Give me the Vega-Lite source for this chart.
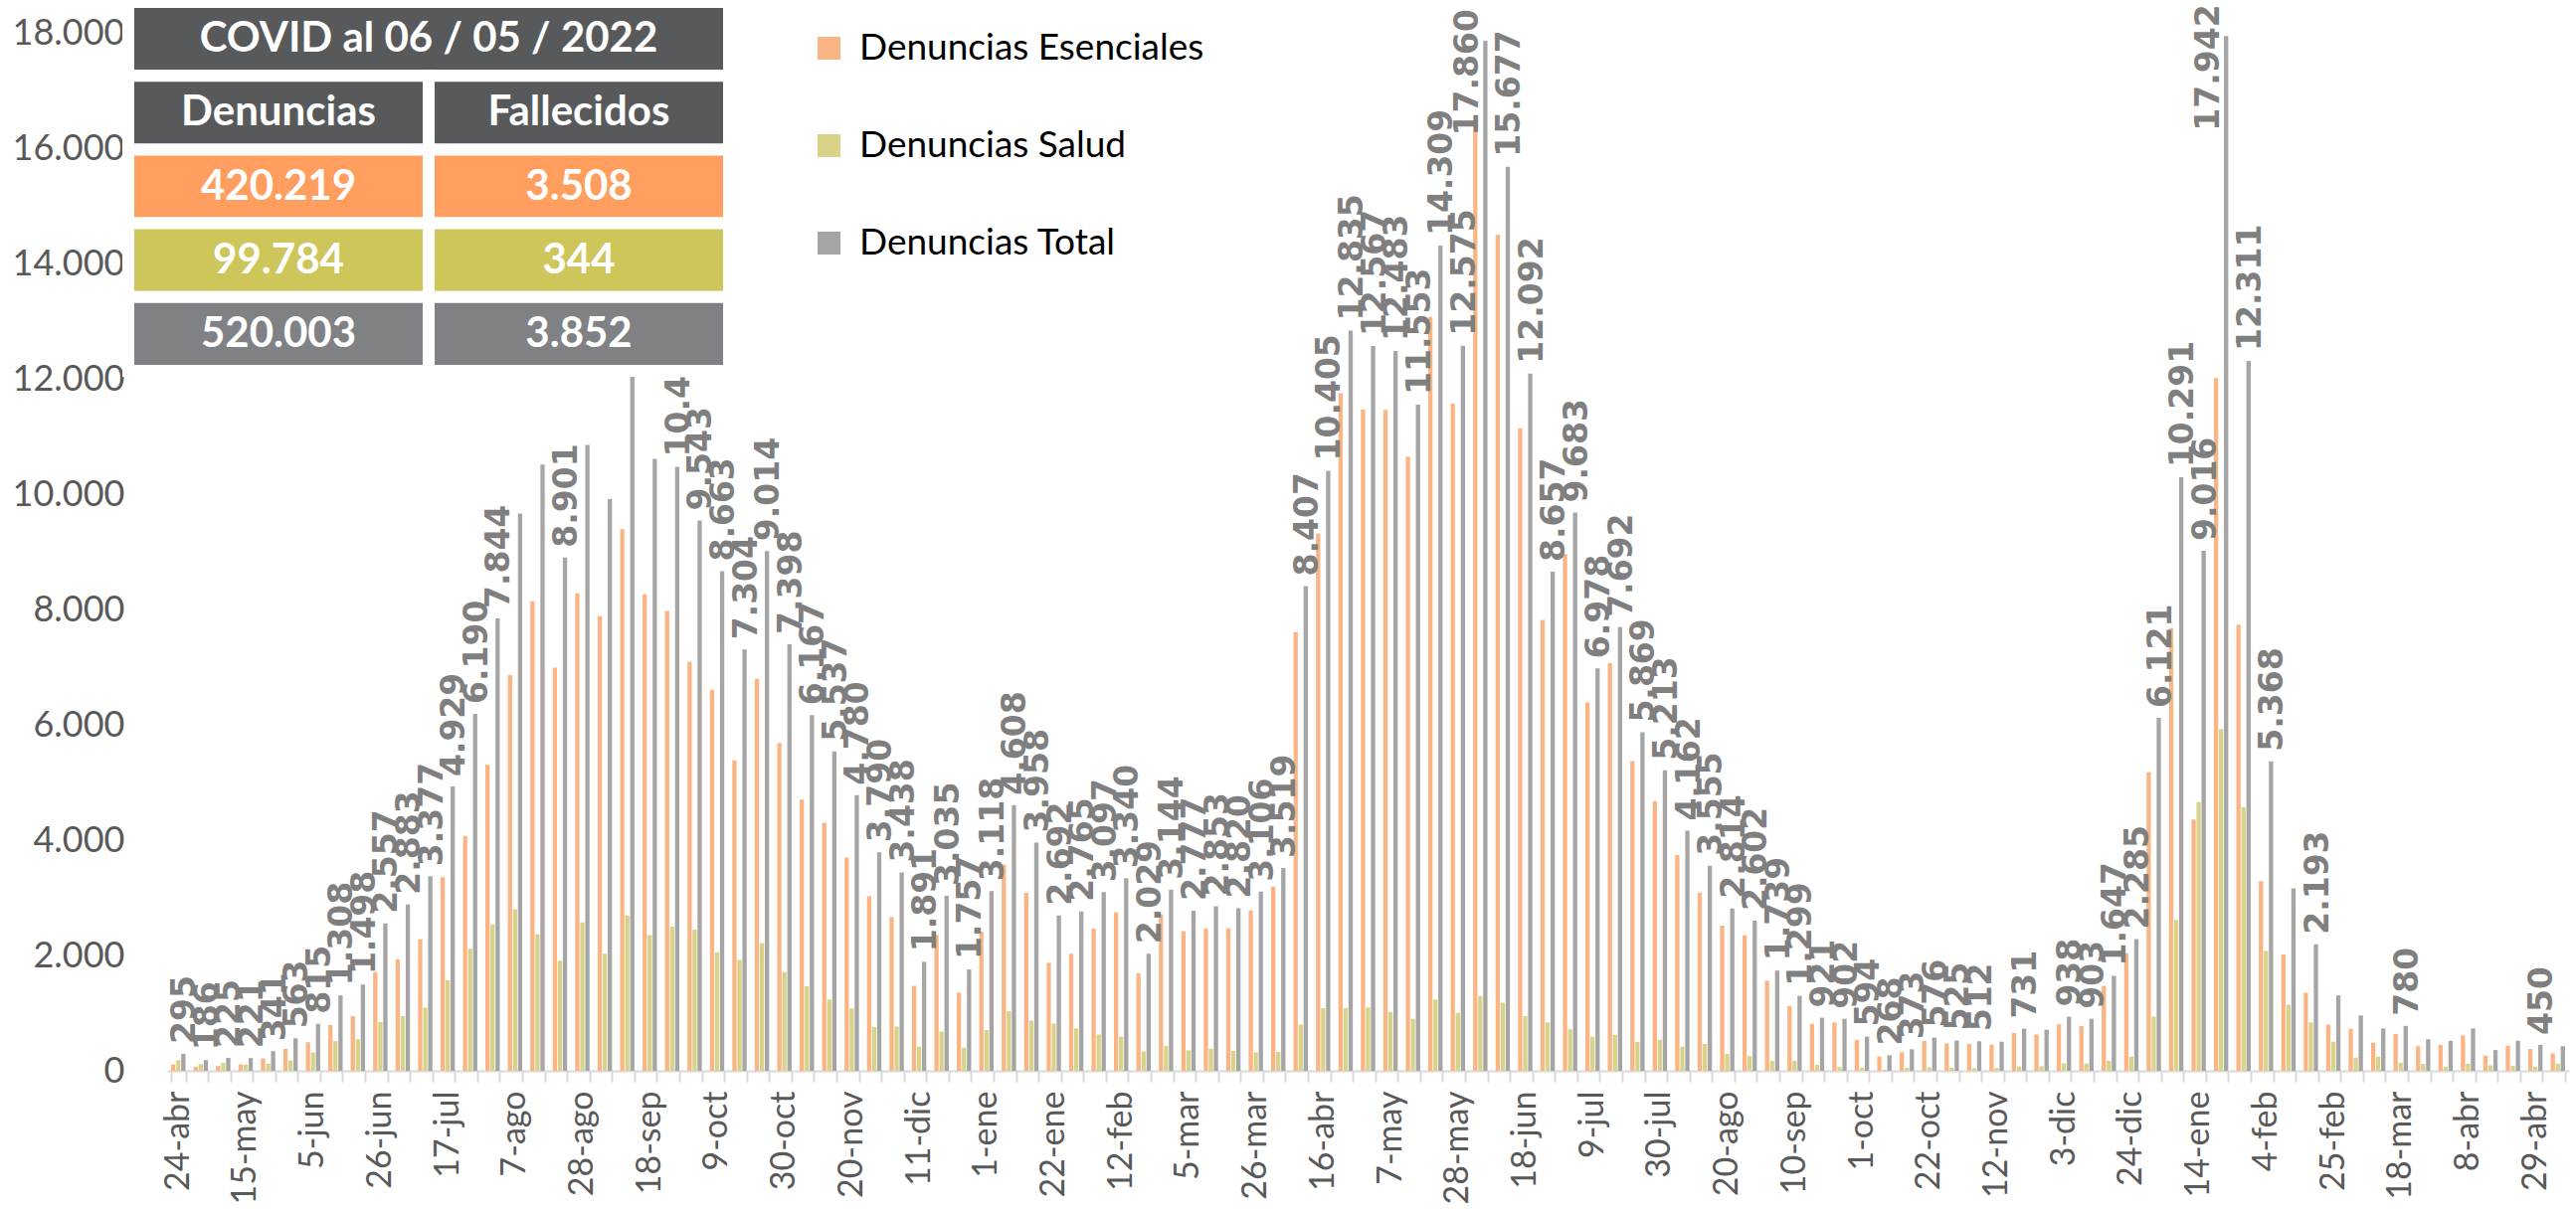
{
  "$schema": "https://vega.github.io/schema/vega-lite/v6.json",
  "width": 2415,
  "height": 1044,
  "autosize": {"type": "none"},
  "padding": {"left": 168, "top": 33, "right": 7, "bottom": 139},
  "background": "white",
  "config": {
    "view": {"stroke": null},
    "font": "Lato",
    "locale": {"number": {"decimal": ",", "thousands": ".", "grouping": [3], "currency": ["", " €"]}}
  },
  "datasets": {
    "semanas": [
      {"semana": "2020-04-24", "Esenciales": 110, "Salud": 185, "Total": 295},
      {"semana": "2020-05-01", "Esenciales": 71, "Salud": 115, "Total": 186},
      {"semana": "2020-05-08", "Esenciales": 85, "Salud": 140, "Total": 225},
      {"semana": "2020-05-15", "Esenciales": 113, "Salud": 108, "Total": 221},
      {"semana": "2020-05-22", "Esenciales": 216, "Salud": 125, "Total": 341},
      {"semana": "2020-05-29", "Esenciales": 383, "Salud": 180, "Total": 563},
      {"semana": "2020-06-05", "Esenciales": 497, "Salud": 318, "Total": 815},
      {"semana": "2020-06-12", "Esenciales": 793, "Salud": 515, "Total": 1308},
      {"semana": "2020-06-19", "Esenciales": 948, "Salud": 550, "Total": 1498},
      {"semana": "2020-06-26", "Esenciales": 1712, "Salud": 845, "Total": 2557},
      {"semana": "2020-07-03", "Esenciales": 1933, "Salud": 950, "Total": 2883},
      {"semana": "2020-07-10", "Esenciales": 2282, "Salud": 1095, "Total": 3377},
      {"semana": "2020-07-17", "Esenciales": 3357, "Salud": 1572, "Total": 4929},
      {"semana": "2020-07-24", "Esenciales": 4072, "Salud": 2118, "Total": 6190},
      {"semana": "2020-07-31", "Esenciales": 5307, "Salud": 2537, "Total": 7844},
      {"semana": "2020-08-07", "Esenciales": 6864, "Salud": 2800, "Total": 9664, "rotulo": 0},
      {"semana": "2020-08-14", "Esenciales": 8143, "Salud": 2368, "Total": 10511, "rotulo": 0},
      {"semana": "2020-08-21", "Esenciales": 6991, "Salud": 1910, "Total": 8901},
      {"semana": "2020-08-28", "Esenciales": 8281, "Salud": 2573, "Total": 10854, "rotulo": 0},
      {"semana": "2020-09-04", "Esenciales": 7885, "Salud": 2030, "Total": 9915, "rotulo": 0},
      {"semana": "2020-09-11", "Esenciales": 9392, "Salud": 2693, "Total": 12085, "rotulo": 0},
      {"semana": "2020-09-18", "Esenciales": 8261, "Salud": 2352, "Total": 10613, "rotulo": 0},
      {"semana": "2020-09-25", "Esenciales": 7974, "Salud": 2500, "Total": 10474},
      {"semana": "2020-10-02", "Esenciales": 7093, "Salud": 2450, "Total": 9543},
      {"semana": "2020-10-09", "Esenciales": 6608, "Salud": 2055, "Total": 8663},
      {"semana": "2020-10-16", "Esenciales": 5382, "Salud": 1922, "Total": 7304},
      {"semana": "2020-10-23", "Esenciales": 6799, "Salud": 2215, "Total": 9014},
      {"semana": "2020-10-30", "Esenciales": 5686, "Salud": 1712, "Total": 7398},
      {"semana": "2020-11-06", "Esenciales": 4702, "Salud": 1465, "Total": 6167},
      {"semana": "2020-11-13", "Esenciales": 4302, "Salud": 1235, "Total": 5537},
      {"semana": "2020-11-20", "Esenciales": 3698, "Salud": 1082, "Total": 4780},
      {"semana": "2020-11-27", "Esenciales": 3030, "Salud": 760, "Total": 3790},
      {"semana": "2020-12-04", "Esenciales": 2670, "Salud": 768, "Total": 3438},
      {"semana": "2020-12-11", "Esenciales": 1473, "Salud": 418, "Total": 1891},
      {"semana": "2020-12-18", "Esenciales": 2355, "Salud": 680, "Total": 3035},
      {"semana": "2020-12-25", "Esenciales": 1357, "Salud": 400, "Total": 1757},
      {"semana": "2021-01-01", "Esenciales": 2413, "Salud": 705, "Total": 3118},
      {"semana": "2021-01-08", "Esenciales": 3573, "Salud": 1035, "Total": 4608},
      {"semana": "2021-01-15", "Esenciales": 3088, "Salud": 870, "Total": 3958},
      {"semana": "2021-01-22", "Esenciales": 1872, "Salud": 820, "Total": 2692},
      {"semana": "2021-01-29", "Esenciales": 2030, "Salud": 735, "Total": 2765},
      {"semana": "2021-02-05", "Esenciales": 2467, "Salud": 630, "Total": 3097},
      {"semana": "2021-02-12", "Esenciales": 2750, "Salud": 590, "Total": 3340},
      {"semana": "2021-02-19", "Esenciales": 1694, "Salud": 335, "Total": 2029},
      {"semana": "2021-02-26", "Esenciales": 2714, "Salud": 430, "Total": 3144},
      {"semana": "2021-03-05", "Esenciales": 2422, "Salud": 355, "Total": 2777},
      {"semana": "2021-03-12", "Esenciales": 2468, "Salud": 385, "Total": 2853},
      {"semana": "2021-03-19", "Esenciales": 2475, "Salud": 345, "Total": 2820},
      {"semana": "2021-03-26", "Esenciales": 2786, "Salud": 320, "Total": 3106},
      {"semana": "2021-04-02", "Esenciales": 3194, "Salud": 325, "Total": 3519},
      {"semana": "2021-04-09", "Esenciales": 7607, "Salud": 800, "Total": 8407},
      {"semana": "2021-04-16", "Esenciales": 9320, "Salud": 1085, "Total": 10405},
      {"semana": "2021-04-23", "Esenciales": 11750, "Salud": 1085, "Total": 12835},
      {"semana": "2021-04-30", "Esenciales": 11467, "Salud": 1100, "Total": 12567},
      {"semana": "2021-05-07", "Esenciales": 11463, "Salud": 1020, "Total": 12483},
      {"semana": "2021-05-14", "Esenciales": 10653, "Salud": 900, "Total": 11553},
      {"semana": "2021-05-21", "Esenciales": 13074, "Salud": 1235, "Total": 14309},
      {"semana": "2021-05-28", "Esenciales": 11570, "Salud": 1005, "Total": 12575},
      {"semana": "2021-06-04", "Esenciales": 16564, "Salud": 1296, "Total": 17860},
      {"semana": "2021-06-11", "Esenciales": 14497, "Salud": 1180, "Total": 15677},
      {"semana": "2021-06-18", "Esenciales": 11142, "Salud": 950, "Total": 12092},
      {"semana": "2021-06-25", "Esenciales": 7817, "Salud": 840, "Total": 8657},
      {"semana": "2021-07-02", "Esenciales": 8963, "Salud": 720, "Total": 9683},
      {"semana": "2021-07-09", "Esenciales": 6388, "Salud": 590, "Total": 6978},
      {"semana": "2021-07-16", "Esenciales": 7067, "Salud": 625, "Total": 7692},
      {"semana": "2021-07-23", "Esenciales": 5369, "Salud": 500, "Total": 5869},
      {"semana": "2021-07-30", "Esenciales": 4673, "Salud": 540, "Total": 5213},
      {"semana": "2021-08-06", "Esenciales": 3742, "Salud": 420, "Total": 4162},
      {"semana": "2021-08-13", "Esenciales": 3090, "Salud": 465, "Total": 3555},
      {"semana": "2021-08-20", "Esenciales": 2519, "Salud": 295, "Total": 2814},
      {"semana": "2021-08-27", "Esenciales": 2347, "Salud": 255, "Total": 2602},
      {"semana": "2021-09-03", "Esenciales": 1564, "Salud": 175, "Total": 1739},
      {"semana": "2021-09-10", "Esenciales": 1124, "Salud": 175, "Total": 1299},
      {"semana": "2021-09-17", "Esenciales": 816, "Salud": 105, "Total": 921},
      {"semana": "2021-09-24", "Esenciales": 837, "Salud": 65, "Total": 902},
      {"semana": "2021-10-01", "Esenciales": 539, "Salud": 55, "Total": 594},
      {"semana": "2021-10-08", "Esenciales": 248, "Salud": 20, "Total": 268},
      {"semana": "2021-10-15", "Esenciales": 323, "Salud": 50, "Total": 373},
      {"semana": "2021-10-22", "Esenciales": 516, "Salud": 60, "Total": 576},
      {"semana": "2021-10-29", "Esenciales": 475, "Salud": 50, "Total": 525},
      {"semana": "2021-11-05", "Esenciales": 467, "Salud": 45, "Total": 512},
      {"semana": "2021-11-12", "Esenciales": 455, "Salud": 50, "Total": 505, "rotulo": 0},
      {"semana": "2021-11-19", "Esenciales": 656, "Salud": 75, "Total": 731},
      {"semana": "2021-11-26", "Esenciales": 632, "Salud": 80, "Total": 712, "rotulo": 0},
      {"semana": "2021-12-03", "Esenciales": 808, "Salud": 130, "Total": 938},
      {"semana": "2021-12-10", "Esenciales": 778, "Salud": 125, "Total": 903},
      {"semana": "2021-12-17", "Esenciales": 1472, "Salud": 175, "Total": 1647},
      {"semana": "2021-12-24", "Esenciales": 2040, "Salud": 245, "Total": 2285},
      {"semana": "2021-12-31", "Esenciales": 5181, "Salud": 940, "Total": 6121},
      {"semana": "2022-01-07", "Esenciales": 7676, "Salud": 2615, "Total": 10291},
      {"semana": "2022-01-14", "Esenciales": 4356, "Salud": 4660, "Total": 9016},
      {"semana": "2022-01-21", "Esenciales": 12015, "Salud": 5927, "Total": 17942},
      {"semana": "2022-01-28", "Esenciales": 7736, "Salud": 4575, "Total": 12311},
      {"semana": "2022-02-04", "Esenciales": 3288, "Salud": 2080, "Total": 5368},
      {"semana": "2022-02-11", "Esenciales": 2019, "Salud": 1145, "Total": 3164, "rotulo": 0},
      {"semana": "2022-02-18", "Esenciales": 1353, "Salud": 840, "Total": 2193},
      {"semana": "2022-02-25", "Esenciales": 803, "Salud": 505, "Total": 1308, "rotulo": 0},
      {"semana": "2022-03-04", "Esenciales": 731, "Salud": 230, "Total": 961, "rotulo": 0},
      {"semana": "2022-03-11", "Esenciales": 489, "Salud": 245, "Total": 734, "rotulo": 0},
      {"semana": "2022-03-18", "Esenciales": 640, "Salud": 140, "Total": 780},
      {"semana": "2022-03-25", "Esenciales": 427, "Salud": 120, "Total": 547, "rotulo": 0},
      {"semana": "2022-04-01", "Esenciales": 451, "Salud": 70, "Total": 521, "rotulo": 0},
      {"semana": "2022-04-08", "Esenciales": 614, "Salud": 120, "Total": 734, "rotulo": 0},
      {"semana": "2022-04-15", "Esenciales": 265, "Salud": 95, "Total": 360, "rotulo": 0},
      {"semana": "2022-04-22", "Esenciales": 436, "Salud": 85, "Total": 521, "rotulo": 0},
      {"semana": "2022-04-29", "Esenciales": 380, "Salud": 70, "Total": 450},
      {"semana": "2022-05-06", "Esenciales": 302, "Salud": 125, "Total": 427, "rotulo": 0}
    ],
    "tabla": [
      {"fila": "titulo", "col_ini": 0, "col_fin": 2, "texto": "COVID al  06 / 05 / 2022"},
      {"fila": "encabezado", "col_ini": 0, "col_fin": 1, "texto": "Denuncias"},
      {"fila": "encabezado", "col_ini": 1, "col_fin": 2, "texto": "Fallecidos"},
      {"fila": "Esenciales", "col_ini": 0, "col_fin": 1, "texto": "420.219"},
      {"fila": "Esenciales", "col_ini": 1, "col_fin": 2, "texto": "3.508"},
      {"fila": "Salud", "col_ini": 0, "col_fin": 1, "texto": "99.784"},
      {"fila": "Salud", "col_ini": 1, "col_fin": 2, "texto": "344"},
      {"fila": "Total", "col_ini": 0, "col_fin": 1, "texto": "520.003"},
      {"fila": "Total", "col_ini": 1, "col_fin": 2, "texto": "3.852"}
    ]
  },
  "layer": [
    {
      "data": {"name": "semanas"},
      "transform": [{"fold": ["Esenciales", "Salud", "Total"], "as": ["serie", "valor"]}],
      "layer": [
        {
          "mark": {"type": "bar"},
          "encoding": {
            "x": {
              "field": "semana", "type": "ordinal",
              "scale": {"paddingInner": 0.36, "paddingOuter": 0.18},
              "axis": {
                "title": null,
                "tickBand": "extent",
                "domainColor": "#D9D9D9", "domainWidth": 2,
                "tickColor": "#D9D9D9", "tickWidth": 2, "tickSize": 11,
                "labelAngle": 270, "labelPadding": 9,
                "labelFont": "Lato", "labelFontSize": 34, "labelColor": "#595959",
                "labelOverlap": false, "labelLimit": 0,
                "labelExpr": "isString(datum.value) && (round((toDate(datum.value) - toDate('2020-04-24')) / 604800000) % 3 == 0) ? utcdate(toDate(datum.value)) + '-' + ['ene','feb','mar','abr','may','jun','jul','ago','sep','oct','nov','dic'][utcmonth(toDate(datum.value))] : ''"
              }
            },
            "xOffset": {
              "field": "serie", "type": "nominal",
              "scale": {"domain": ["Esenciales", "Salud", "Total"], "paddingInner": 0.15, "paddingOuter": 0}
            },
            "y": {
              "field": "valor", "type": "quantitative",
              "scale": {"domain": [0, 18000], "nice": false},
              "axis": {
                "title": null, "grid": false, "domain": false, "ticks": false,
                "values": [0, 2000, 4000, 6000, 8000, 10000, 12000, 14000, 16000, 18000],
                "format": ",d", "labelPadding": 43,
                "labelFont": "Lato", "labelFontSize": 36, "labelColor": "#595959"
              }
            },
            "color": {
              "field": "serie", "type": "nominal",
              "scale": {"domain": ["Esenciales", "Salud", "Total"], "range": ["#FBB584", "#D9D38A", "#A5A5A5"]},
              "legend": {
                "title": null, "orient": "none", "legendX": 647, "legendY": -3,
                "direction": "vertical", "symbolType": "square", "symbolSize": 529,
                "symbolStrokeWidth": 0, "symbolOpacity": 1,
                "labelFont": "Lato", "labelFontSize": 37, "labelColor": "#000000",
                "labelOffset": 12, "rowPadding": 60, "padding": 0, "labelLimit": 0,
                "labelExpr": "'Denuncias ' + datum.label"
              }
            }
          }
        },
        {
          "transform": [{"filter": "datum.serie == 'Total' && datum.rotulo !== 0 && datum.valor < 16000"}],
          "mark": {
            "type": "text", "angle": 270, "align": "left", "baseline": "middle",
            "dx": 10, "dy": 2, "font": "DejaVu Sans", "fontWeight": "bold",
            "fontSize": 33, "fill": "#7F7F7F"
          },
          "encoding": {
            "x": {"field": "semana", "type": "ordinal"},
            "xOffset": {"field": "serie", "type": "nominal"},
            "y": {"field": "valor", "type": "quantitative"},
            "text": {"field": "valor", "type": "quantitative", "format": ",d"}
          }
        },
        {
          "transform": [{"filter": "datum.serie == 'Total' && datum.rotulo !== 0 && datum.valor >= 16000"}],
          "mark": {
            "type": "text", "angle": 270, "align": "right", "baseline": "middle",
            "dx": 32, "dy": -17, "font": "DejaVu Sans", "fontWeight": "bold",
            "fontSize": 33, "fill": "#7F7F7F"
          },
          "encoding": {
            "x": {"field": "semana", "type": "ordinal"},
            "xOffset": {"field": "serie", "type": "nominal"},
            "y": {"field": "valor", "type": "quantitative"},
            "text": {"field": "valor", "type": "quantitative", "format": ",d"}
          }
        }
      ]
    },
    {
      "data": {"name": "tabla"},
      "transform": [{"calculate": "(datum.col_ini + datum.col_fin) / 2", "as": "centro"}],
      "layer": [
        {
          "mark": {"type": "rect", "stroke": "white", "strokeWidth": 12},
          "encoding": {
            "x": {"field": "col_ini", "type": "quantitative", "scale": {"domain": [0, 2], "range": [-39, 565]}, "axis": null},
            "x2": {"field": "col_fin"},
            "y": {
              "field": "fila", "type": "nominal",
              "scale": {"domain": ["titulo", "encabezado", "Esenciales", "Salud", "Total"], "range": [-31, 340], "paddingInner": 0, "paddingOuter": 0},
              "axis": null
            },
            "fill": {
              "field": "fila", "type": "nominal",
              "scale": {"domain": ["titulo", "encabezado", "Esenciales", "Salud", "Total"], "range": ["#58595B", "#58595B", "#FF9E5F", "#CEC55B", "#808184"]},
              "legend": null
            }
          }
        },
        {
          "mark": {"type": "text", "font": "Lato", "fontWeight": "bold", "fontSize": 42, "fill": "white", "align": "center", "baseline": "middle"},
          "encoding": {
            "x": {"field": "centro", "type": "quantitative"},
            "y": {"field": "fila", "type": "nominal"},
            "text": {"field": "texto"}
          }
        }
      ]
    }
  ],
  "resolve": {"scale": {"x": "independent", "y": "independent"}}
}
